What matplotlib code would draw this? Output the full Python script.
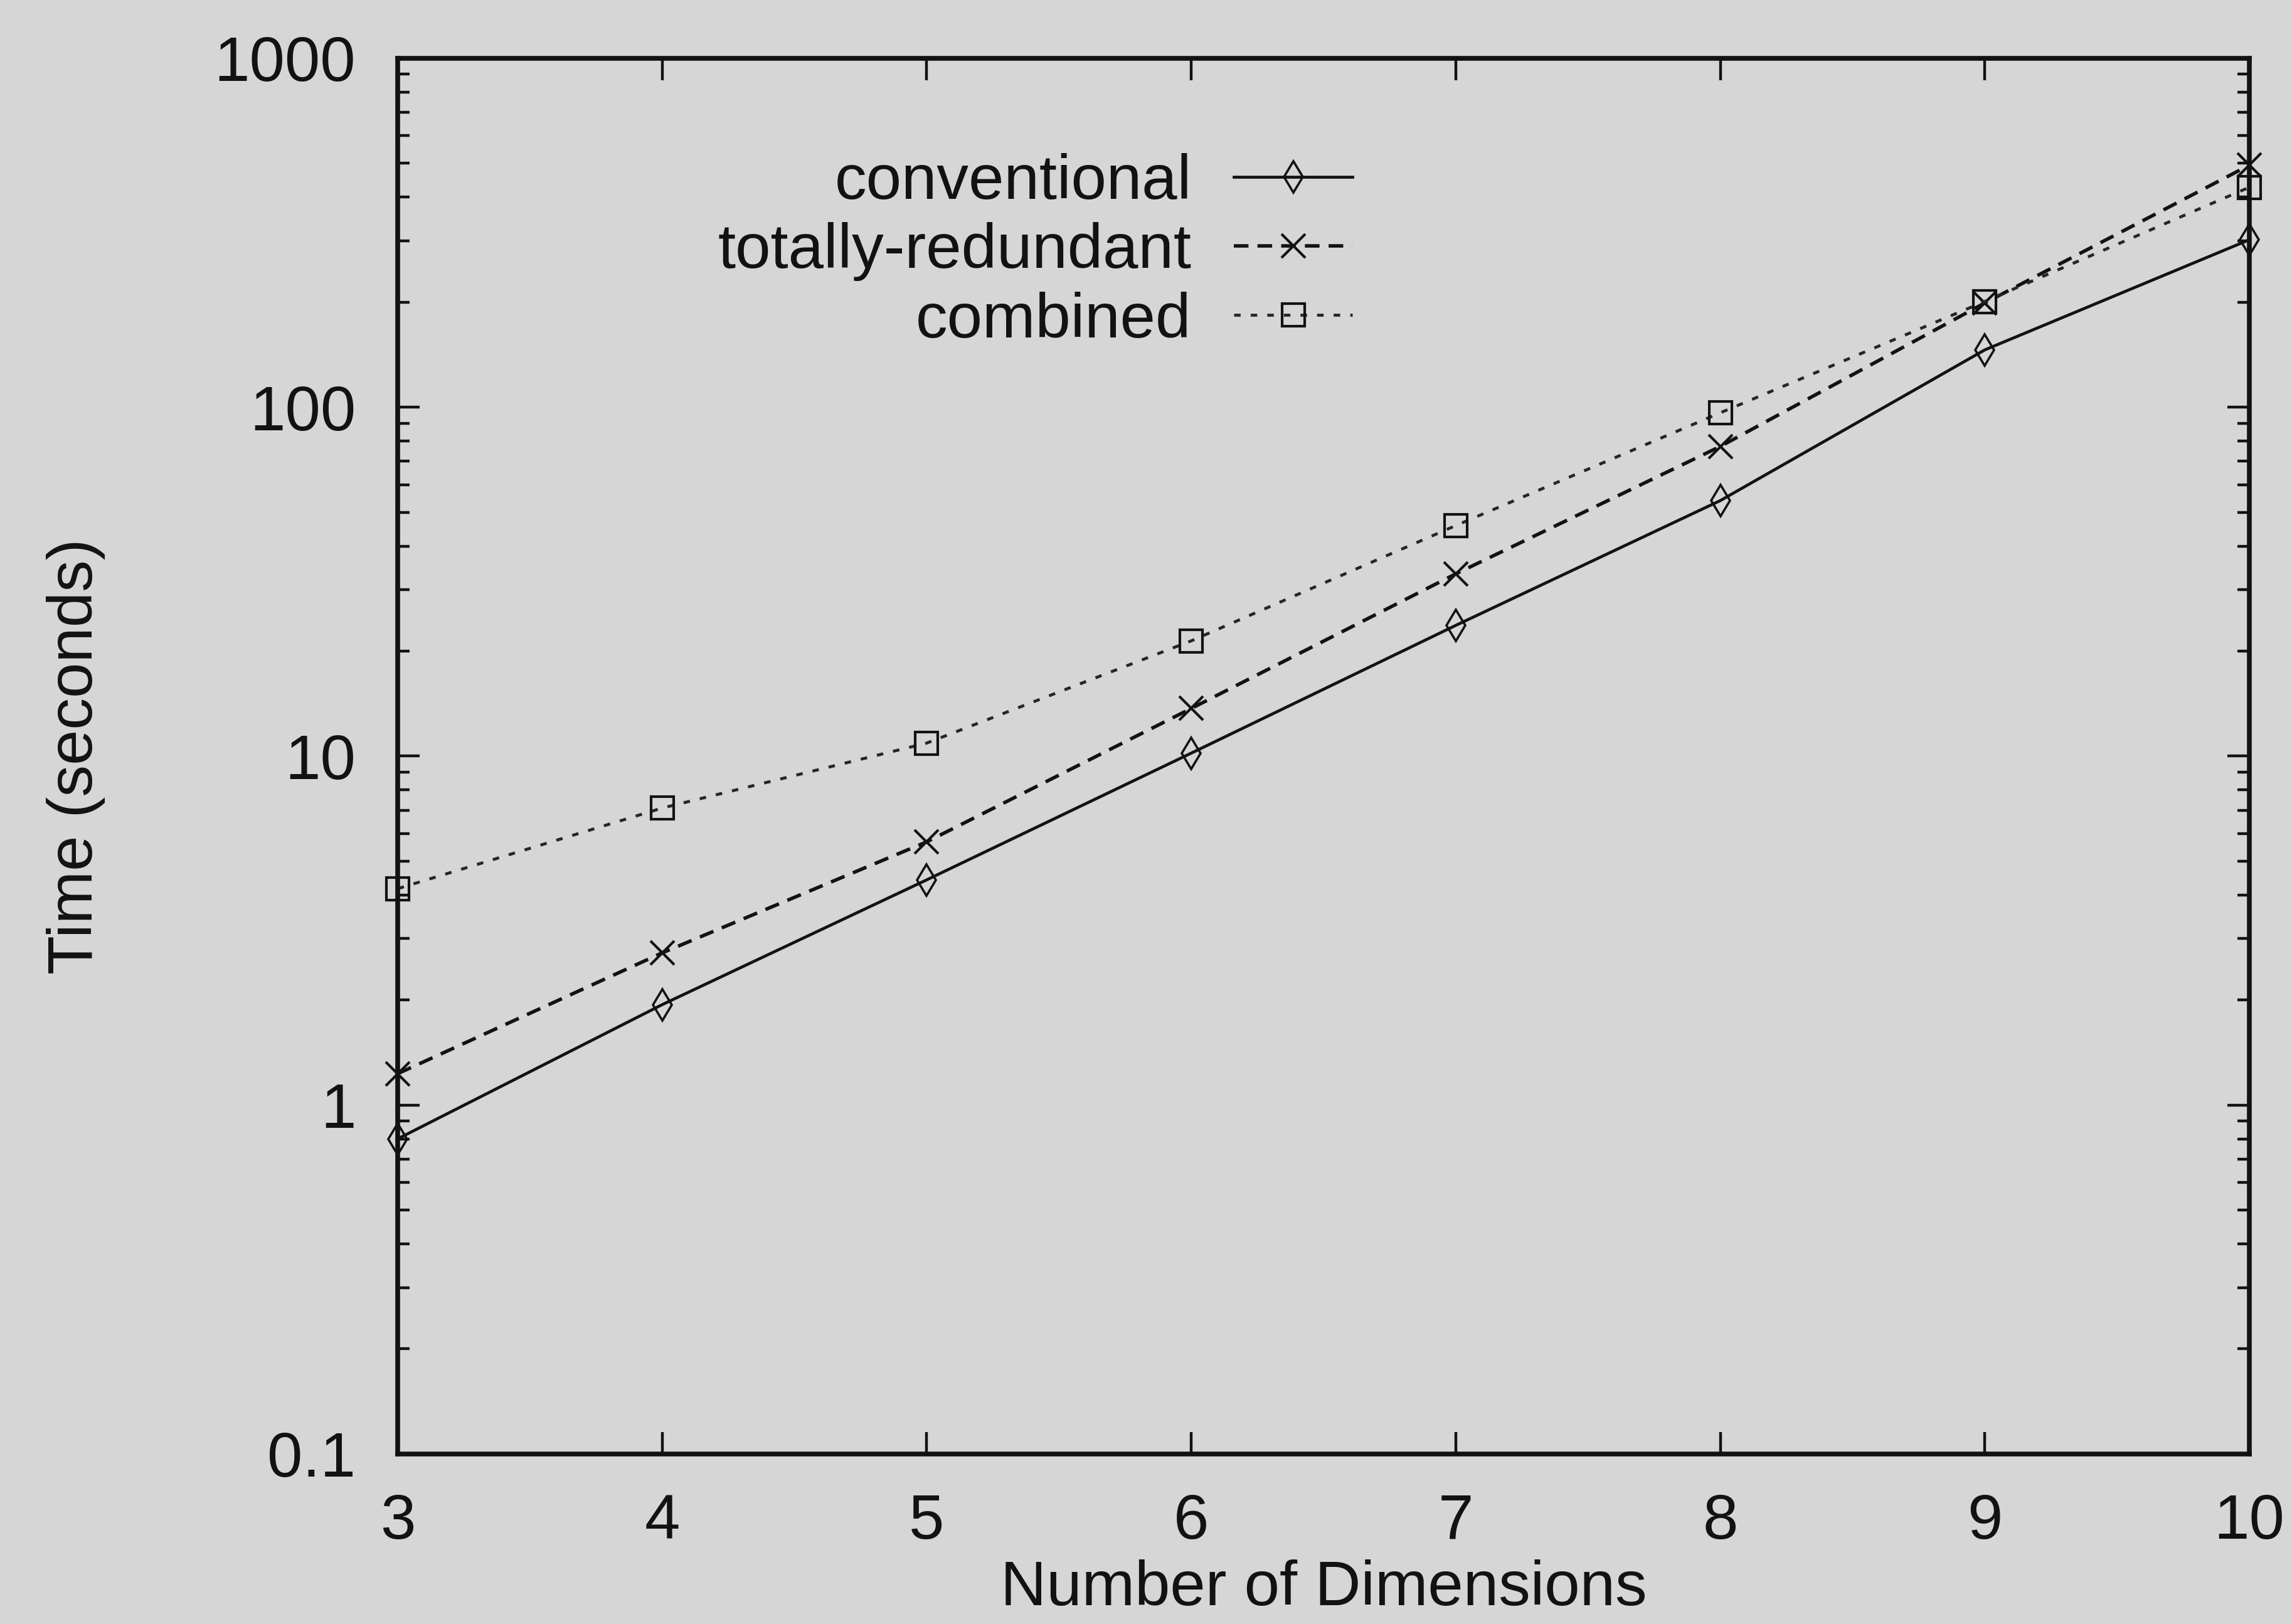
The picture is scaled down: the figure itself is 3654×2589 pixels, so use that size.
import numpy as np
import matplotlib.pyplot as plt
from matplotlib.ticker import LogLocator, NullFormatter

# timings per number of dimensions
dims = [3, 4, 5, 6, 7, 8, 9, 10]
conventional = [0.80, 1.94, 4.42, 10.2, 23.7, 54.0, 146, 302]
totally_redundant = [1.23, 2.73, 5.68, 13.7, 33.3, 77.2, 199, 494]
combined = [4.17, 7.10, 10.9, 21.4, 45.8, 96.4, 201, 427]

y_ticks = [0.1, 1, 10, 100, 1000]
y_tick_labels = ["0.1", "1", "10", "100", "1000"]

plt.rcParams['font.family'] = ['Liberation Sans', 'DejaVu Sans']
ink = '#121212'
paper = '#d6d6d6'
fs = 73

fig = plt.figure(figsize=(36.54, 25.89), dpi=100, facecolor=paper)
ax = fig.add_axes([0.1735, 0.1047, 0.8079, 0.8594])
ax.set_facecolor(paper)

ax.plot(dims, conventional, color=ink, lw=3.4, ls='-',
        marker='d', ms=25, mfc='none', mec=ink, mew=2.6,
        label='conventional', clip_on=False)
ax.plot(dims, totally_redundant, color=ink, lw=4.0, ls=(0, (4.2, 2.6)),
        marker='x', ms=27, mec=ink, mew=3.0,
        label='totally-redundant', clip_on=False)
ax.plot(dims, combined, color='#262626', lw=3.4, ls=(0, (2.2, 3.4)),
        marker='s', ms=26, mfc='none', mec=ink, mew=3.0,
        label='combined', clip_on=False)

ax.set_yscale('log')
ax.set_ylim(0.1, 1000)
ax.set_xlim(3, 10)
ax.set_xticks(dims)
ax.set_yticks(y_ticks)
ax.set_yticklabels(y_tick_labels)
ax.yaxis.set_minor_locator(LogLocator(base=10, subs=np.arange(2, 10)))
ax.yaxis.set_minor_formatter(NullFormatter())

ax.tick_params(which='both', direction='in', top=True, right=True,
               colors=ink, labelsize=fs)
ax.tick_params(which='major', length=25, width=3.2)
ax.tick_params(which='minor', length=14, width=3.2)
ax.tick_params(axis='x', pad=45)
ax.tick_params(axis='y', pad=48)
for s in ax.spines.values():
    s.set_linewidth(5.5)
    s.set_color(ink)

ax.set_xlabel('Number of Dimensions', fontsize=fs, color=ink)
ax.xaxis.set_label_coords(0.5, -0.0755)
ax.set_ylabel('Time (seconds)', fontsize=fs, color=ink)
ax.yaxis.set_label_coords(-0.158, 0.5)

ax.legend(loc='upper right', bbox_to_anchor=(0.5156, 0.932),
          markerfirst=False, frameon=False, fontsize=fs, labelcolor=ink,
          handlelength=1.86, handletextpad=0.67, labelspacing=0.16,
          borderpad=0, borderaxespad=0, numpoints=1)

fig.savefig('out.png', dpi=100, facecolor=paper)
